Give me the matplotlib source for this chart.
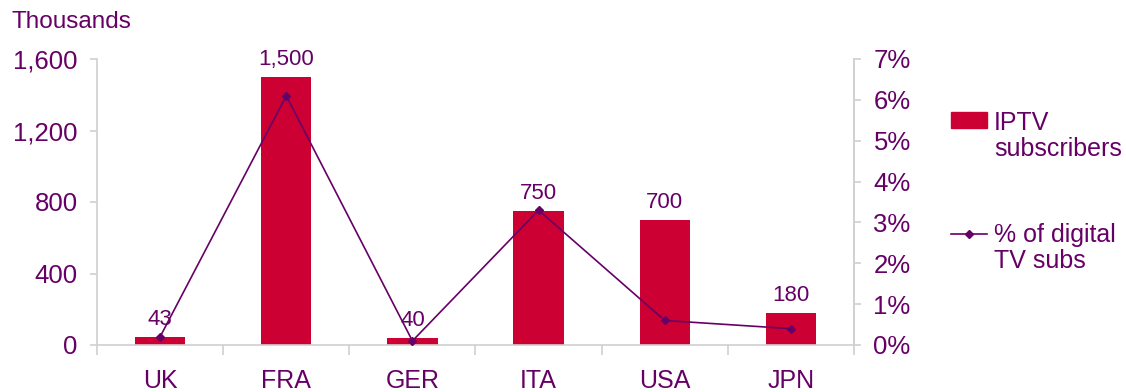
import matplotlib
matplotlib.use("Agg")
import matplotlib.pyplot as plt
from matplotlib.patches import Rectangle
from matplotlib.lines import Line2D
from matplotlib.ticker import FuncFormatter
import numpy as np

plt.rcParams['font.family'] = ['Liberation Sans', 'DejaVu Sans']

categories = ["UK", "FRA", "GER", "ITA", "USA", "JPN"]
iptv_subs = [43, 1500, 40, 750, 700, 180]          # thousands
pct_digital = [0.2, 6.1, 0.1, 3.3, 0.6, 0.4]        # percent
bar_labels = ["43", "1,500", "40", "750", "700", "180"]
left_ticks = [0, 400, 800, 1200, 1600]
right_ticks = [0, 1, 2, 3, 4, 5, 6, 7]

RED = "#CC0033"
PURPLE = "#660066"
GRID = "#D0D0D0"

W, H = 1126, 392
fig = plt.figure(figsize=(W / 100, H / 100), dpi=100)
ax = fig.add_axes([97 / W, 1 - 345 / H, (854 - 97) / W, (345 - 59) / H])
x = np.arange(len(categories))
ax.bar(x, iptv_subs, width=0.4, color=RED, zorder=2)
ax.set_xlim(-0.5, len(categories) - 0.5)
ax.set_ylim(0, 1600)
ax.set_yticks(left_ticks)
ax.yaxis.set_major_formatter(FuncFormatter(lambda v, p: f"{int(v):,}"))
ax.tick_params(axis="y", colors=GRID, labelcolor=PURPLE, labelsize=18.5,
               length=5, width=1.2, pad=9)
ax.set_xticks(x)
ax.set_xticklabels(categories)
ax.tick_params(axis="x", which="major", length=0, labelsize=18,
               labelcolor=PURPLE, pad=17)
ax.set_xticks(np.arange(len(categories) + 1) - 0.5, minor=True)
ax.tick_params(axis="x", which="minor", length=7, width=1.2, color=GRID)
for s in ["top"]:
    ax.spines[s].set_visible(False)
for s in ["left", "bottom", "right"]:
    ax.spines[s].set_color(GRID)
    ax.spines[s].set_linewidth(1.2)

for xi, v, lab in zip(x, iptv_subs, bar_labels):
    ax.annotate(lab, (xi, v), xytext=(0, 5), textcoords="offset points",
                ha="center", va="bottom", fontsize=16, color=PURPLE, zorder=5)

ax2 = ax.twinx()
ax2.plot(x, pct_digital, color=PURPLE, lw=1.2, marker="D", markersize=4.5,
         zorder=3)
ax2.set_ylim(0, 7)
ax2.set_yticks(right_ticks)
ax2.yaxis.set_major_formatter(FuncFormatter(lambda v, p: f"{int(v)}%"))
ax2.tick_params(axis="y", colors=GRID, labelcolor=PURPLE, labelsize=18.5,
                length=5, width=1.2, pad=9)
for s in ["top", "left", "bottom"]:
    ax2.spines[s].set_visible(False)
ax2.spines["right"].set_color(GRID)
ax2.spines["right"].set_linewidth(1.2)

fig.text(12 / W, 1 - 22 / H, "Thousands", fontsize=17.5, color=PURPLE,
         ha="left", va="center")

# legend
fig.patches.append(Rectangle((951 / W, 1 - 128 / H), 36 / W, 16 / H,
                             transform=fig.transFigure, color=RED))
fig.text(994 / W, 1 - 136 / H, "IPTV\nsubscribers", fontsize=18,
         color=PURPLE, ha="left", va="center", linespacing=1.1)
leg_line = Line2D([951 / W, 969 / W, 987 / W], [1 - 234 / H] * 3,
                  transform=fig.transFigure, color=PURPLE, lw=1.2,
                  marker="D", markersize=4.5, markevery=[1])
fig.lines.append(leg_line)
fig.text(994 / W, 1 - 248 / H, "% of digital\nTV subs", fontsize=18,
         color=PURPLE, ha="left", va="center", linespacing=1.1)

fig.savefig("out.png", dpi=100)
